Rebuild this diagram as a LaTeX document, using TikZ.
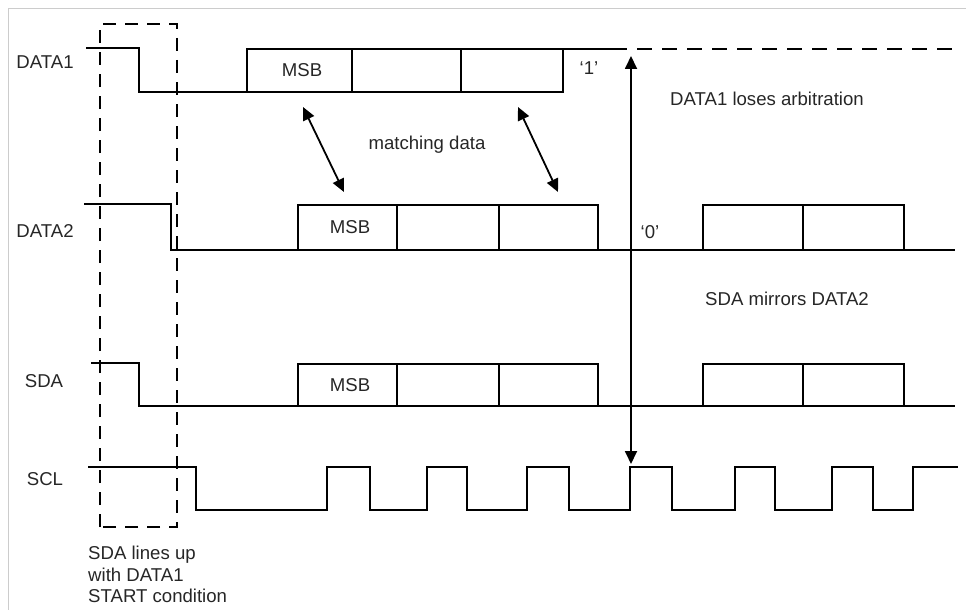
\documentclass[tikz,border=0pt]{standalone}
\usepackage{fontspec}
\setmainfont{Liberation Sans}
\usepackage{tikz}
\usetikzlibrary{arrows.meta, positioning}
\usepackage{xcolor}

\tikzset{
	wave/.style={line width=2.2pt, black, line join=miter},
	lbl/.style={font=\fontsize{18.6}{21.5}\selectfont, text=black!85, inner sep=0pt},
	pointer/.style={line width=1.8pt, {Triangle[length=13pt,width=12pt]}-{Triangle[length=13pt,width=12pt]}},
}

\begin{document}
\begin{tikzpicture}[x=1pt,y=-1pt]
				\useasboundingbox (0,0) rectangle (966,610);
				\draw[black!20, line width=1pt] (966,9) -- (8,9) -- (8,610);
				\draw[wave] (86,48) -- (139,48) -- (139,92) -- (563,92) -- (563,49);
				\draw[wave] (247,92) -- (247,49) -- (627,49);
				\draw[wave] (352,49) -- (352,92);
				\draw[wave] (461,49) -- (461,92);
				\draw[wave, dash pattern=on 15pt off 10pt] (637,49) -- (955,49);
				\draw[wave] (84,204) -- (171,204) -- (171,250) -- (955,250);
				\draw[wave] (298,250) -- (298,205) -- (598,205) -- (598,250);
				\draw[wave] (397,205) -- (397,250);
				\draw[wave] (499,205) -- (499,250);
				\draw[wave] (703,250) -- (703,205) -- (904,205) -- (904,250);
				\draw[wave] (803,205) -- (803,250);
				\draw[wave] (91,363) -- (139,363) -- (139,406) -- (955,406);
				\draw[wave] (298,406) -- (298,364) -- (598,364) -- (598,406);
				\draw[wave] (397,364) -- (397,406);
				\draw[wave] (499,364) -- (499,406);
				\draw[wave] (703,406) -- (703,364) -- (904,364) -- (904,406);
				\draw[wave] (803,364) -- (803,406);
				\draw[wave] (88,467) -- (196,467) -- (196,510) -- (327,510) -- (327,467) -- (370,467) -- (370,510)
					-- (427,510) -- (427,467) -- (467,467) -- (467,510) -- (527,510) -- (527,467) -- (569,467)
					-- (569,510) -- (630,510) -- (630,467) -- (672,467) -- (672,510) -- (735,510) -- (735,467)
					-- (775,467) -- (775,510) -- (832,510) -- (832,467) -- (873,467) -- (873,510) -- (913,510)
					-- (913,467) -- (958,467);
				\draw[line width=1.2pt, dash pattern=on 13pt off 9pt] (100,527) rectangle (177,24);
				\node[lbl] (data1lbl) at (45,62) {DATA1};
				\node[lbl] (data2lbl) at (45,231) {DATA2};
				\node[lbl] (sdalbl) at (44,381) {SDA};
				\node[lbl] (scllbl) at (45,479) {SCL};
				\node[lbl] (msbone) at (302,70) {MSB};
				\node[lbl] (msbtwo) at (350,227) {MSB};
				\node[lbl] (msbsda) at (350,385) {MSB};
				\node[lbl] (onelbl) at (589,68) {`1'};
				\node[lbl] (zerolbl) at (650,232) {`0'};
				\node[lbl] (matchlbl) at (427,145) {matching data};
				\node[lbl] (loselbl) at (767,99) {DATA1 loses arbitration};
				\node[lbl] (mirrorlbl) at (787,299) {SDA mirrors DATA2};
				\node[lbl, anchor=north west, align=left] (startlbl) at (88,546) {SDA lines up\\with DATA1\\START condition};
				\coordinate (msbup) at (303,107);
				\coordinate (msbdown) at (344,192);
				\coordinate (lastup) at (518,107);
				\coordinate (lastdown) at (558,192);
				\coordinate (lossup) at (631,56);
				\coordinate (lossdown) at (631,464);
				\draw[pointer] (msbup) -- (msbdown);
				\draw[pointer] (lastup) -- (lastdown);
				\draw[pointer] (lossup) -- (lossdown);
			\end{tikzpicture}
\end{document}
